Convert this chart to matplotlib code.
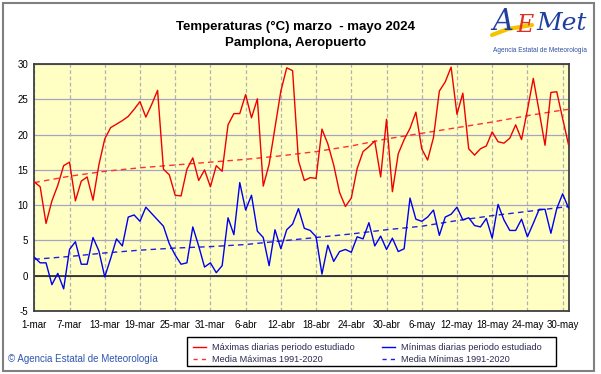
import matplotlib
matplotlib.use("Agg")
import matplotlib.pyplot as plt
from matplotlib.patches import Rectangle
from matplotlib.lines import Line2D
import numpy as np

# ---------------- data ----------------
tick_labels = ["1-mar", "7-mar", "13-mar", "19-mar", "25-mar", "31-mar",
               "6-abr", "12-abr", "18-abr", "24-abr", "30-abr",
               "6-may", "12-may", "18-may", "24-may", "30-may"]
tick_days = [0, 6, 12, 18, 24, 30, 36, 42, 48, 54, 60, 66, 72, 78, 84, 90]

tmax = [13.3, 12.6, 7.4, 10.6, 12.8, 15.6, 16.1, 10.6, 13.4, 14.0,
        10.7, 15.7, 19.4, 21.0, 21.5, 22.0, 22.6, 23.6, 24.7, 22.5,
        24.3, 26.3, 15.1, 14.3, 11.4, 11.3, 15.1, 16.7, 13.5, 15.0,
        12.6, 15.6, 14.8, 21.4, 23.0, 23.0, 25.7, 22.4, 25.1, 12.7,
        15.8, 21.0, 26.2, 29.5, 29.1, 16.3, 13.5, 13.9, 13.8, 20.8,
        18.7, 15.7, 11.8, 9.8, 11.0, 15.2, 17.6, 18.3, 19.1, 14.0,
        22.2, 11.9, 17.3, 19.3, 20.9, 23.2, 18.0, 16.4, 19.6, 26.2,
        27.5, 29.6, 22.9, 25.9, 18.0, 17.1, 18.0, 18.4, 20.4, 19.0,
        18.8, 19.5, 21.4, 19.3, 23.5, 28.0, 23.3, 18.5, 26.0, 26.1,
        22.3, 18.6]

tmin = [2.6, 1.8, 1.8, -1.3, 0.3, -1.9, 3.7, 4.8, 1.6, 1.6,
        5.4, 3.5, -0.2, 2.4, 5.2, 4.2, 8.3, 8.6, 7.7, 9.7,
        8.8, 7.9, 7.0, 4.5, 2.9, 1.6, 1.8, 6.9, 4.2, 1.2,
        1.8, 0.4, 1.4, 8.2, 5.8, 13.2, 9.3, 11.4, 6.3, 5.4,
        1.4, 6.5, 3.8, 6.5, 7.3, 9.5, 6.7, 6.4, 5.5, 0.2,
        4.3, 2.0, 3.4, 3.7, 3.3, 5.5, 5.2, 7.5, 4.2, 5.6,
        3.7, 5.3, 3.4, 3.8, 11.0, 8.0, 7.7, 8.3, 9.3, 5.7,
        8.3, 8.7, 9.7, 7.9, 8.2, 7.1, 6.9, 8.1, 5.3, 10.1,
        7.9, 6.4, 6.4, 8.0, 5.5, 7.4, 9.4, 9.4, 6.0, 9.5,
        11.6, 9.6]

mean_days = [0, 6, 12, 18, 24, 30, 36, 42, 48, 54, 60, 66, 72, 78, 84, 90, 91]
mean_max = [13.2, 14.1, 14.8, 15.3, 15.7, 16.1, 16.5, 17.0, 17.6, 18.4,
            19.4, 20.2, 21.0, 21.8, 22.7, 23.5, 23.6]
mean_min = [2.3, 2.7, 3.2, 3.6, 3.9, 4.1, 4.4, 4.9, 5.4, 5.9,
            6.5, 7.0, 7.8, 8.5, 9.1, 9.7, 9.8]

yticks = [-5, 0, 5, 10, 15, 20, 25, 30]

# ---------------- figure ----------------
W, H = 601, 374
fig = plt.figure(figsize=(W / 100, H / 100), dpi=100)
fig.patch.set_facecolor("white")
plt.rcParams["font.family"] = ["Liberation Sans", "DejaVu Sans"]

left, right, top, bottom = 34.3, 568.5, 64.3, 310.7
ax = fig.add_axes([left / W, 1 - bottom / H, (right - left) / W, (bottom - top) / H])
ax.set_facecolor("#FFFFC4")

days = np.arange(len(tmax))
ax.set_xlim(0, len(tmax) - 1)
ax.set_ylim(-5, 30)

for y in yticks:
    ax.axhline(y, color="#A4A4C4", lw=0.9, zorder=1)
for d in tick_days:
    ax.axvline(d, color="#B0B0B0", lw=0.9, ls=(0, (3, 2)), zorder=1)
ax.axhline(0, color="#202020", lw=1.2, zorder=2)

ax.plot(mean_days, mean_max, color="#FF3030", lw=1.0, ls=(0, (4, 3)), zorder=3)
ax.plot(mean_days, mean_min, color="#2020E0", lw=1.0, ls=(0, (4, 3)), zorder=3)
ax.plot(days, tmax, color="#F00000", lw=1.0, zorder=4)
ax.plot(days, tmin, color="#0000F0", lw=1.0, zorder=4)

ax.set_xticks(tick_days)
ax.set_xticklabels(tick_labels)
ax.set_yticks(yticks)
ax.set_yticklabels([str(v) for v in yticks])
ax.tick_params(axis="both", length=0, labelsize=7, colors="#000000")
ax.tick_params(axis="x", pad=6.5)
ax.tick_params(axis="y", pad=4.5)
for s in ax.spines.values():
    s.set_color("#404040")
    s.set_linewidth(1.3)

# ---------------- titles ----------------
fig.text(296 / W, 1 - 27 / H, "Temperaturas (°C) marzo  - mayo 2024",
         ha="center", va="center", fontsize=9.5, fontweight="bold")
fig.text(296 / W, 1 - 43 / H, "Pamplona, Aeropuerto",
         ha="center", va="center", fontsize=9.5, fontweight="bold")

# ---------------- logo ----------------
fig.add_artist(Line2D([492 / W, 508 / W, 532 / W], [1 - 35 / H, 1 - 29 / H, 1 - 25 / H],
                      color="#F5C400", lw=3, transform=fig.transFigure,
                      solid_capstyle="round"))
fig.text(492 / W, 1 - 22 / H, "A", color="#1F3F9F", fontsize=21,
         ha="left", va="center", family="DejaVu Serif", style="italic")
fig.text(516 / W, 1 - 25 / H, "E", color="#E03020", fontsize=17,
         ha="left", va="center", family="DejaVu Serif", style="italic")
fig.text(536 / W, 1 - 24 / H, "Met", color="#1F3F9F", fontsize=18,
         ha="left", va="center", family="DejaVu Serif", style="italic")
fig.text(540 / W, 1 - 50 / H, "Agencia Estatal de Meteorología", color="#3050A0",
         fontsize=4.7, ha="center", va="center")

# ---------------- legend ----------------
fig.add_artist(Rectangle((187 / W, 1 - 366 / H), (556 - 187) / W, (366 - 337) / H,
                         transform=fig.transFigure, fill=False, ec="#000000", lw=1.0))
txtc = "#2A2A50"
rows = [(347, 193, "#FF0000", "-", "Máximas diarias periodo estudiado"),
        (359, 193, "#FF3030", (0, (3, 3)), "Media Máximas 1991-2020"),
        (347, 382, "#0000FF", "-", "Mínimas diarias periodo estudiado"),
        (359, 382, "#2020E0", (0, (3, 3)), "Media Mínimas 1991-2020")]
for yy, xx, c, ls, lab in rows:
    fig.add_artist(Line2D([xx / W, (xx + 13) / W], [1 - yy / H, 1 - yy / H],
                          color=c, lw=1.0, ls=ls, transform=fig.transFigure))
    fig.text((xx + 19) / W, 1 - yy / H, lab, color=txtc, fontsize=6.6,
             ha="left", va="center")

fig.text(8 / W, 1 - 359 / H, "© Agencia Estatal de Meteorología", color="#2F55B0",
         fontsize=7, ha="left", va="center")

# figure border
fig.add_artist(Rectangle((3 / W, 3 / H), (594 - 3) / W, (371 - 3) / H,
                         transform=fig.transFigure, fill=False, ec="#808080", lw=1.5))

fig.savefig("out.png", dpi=100)
